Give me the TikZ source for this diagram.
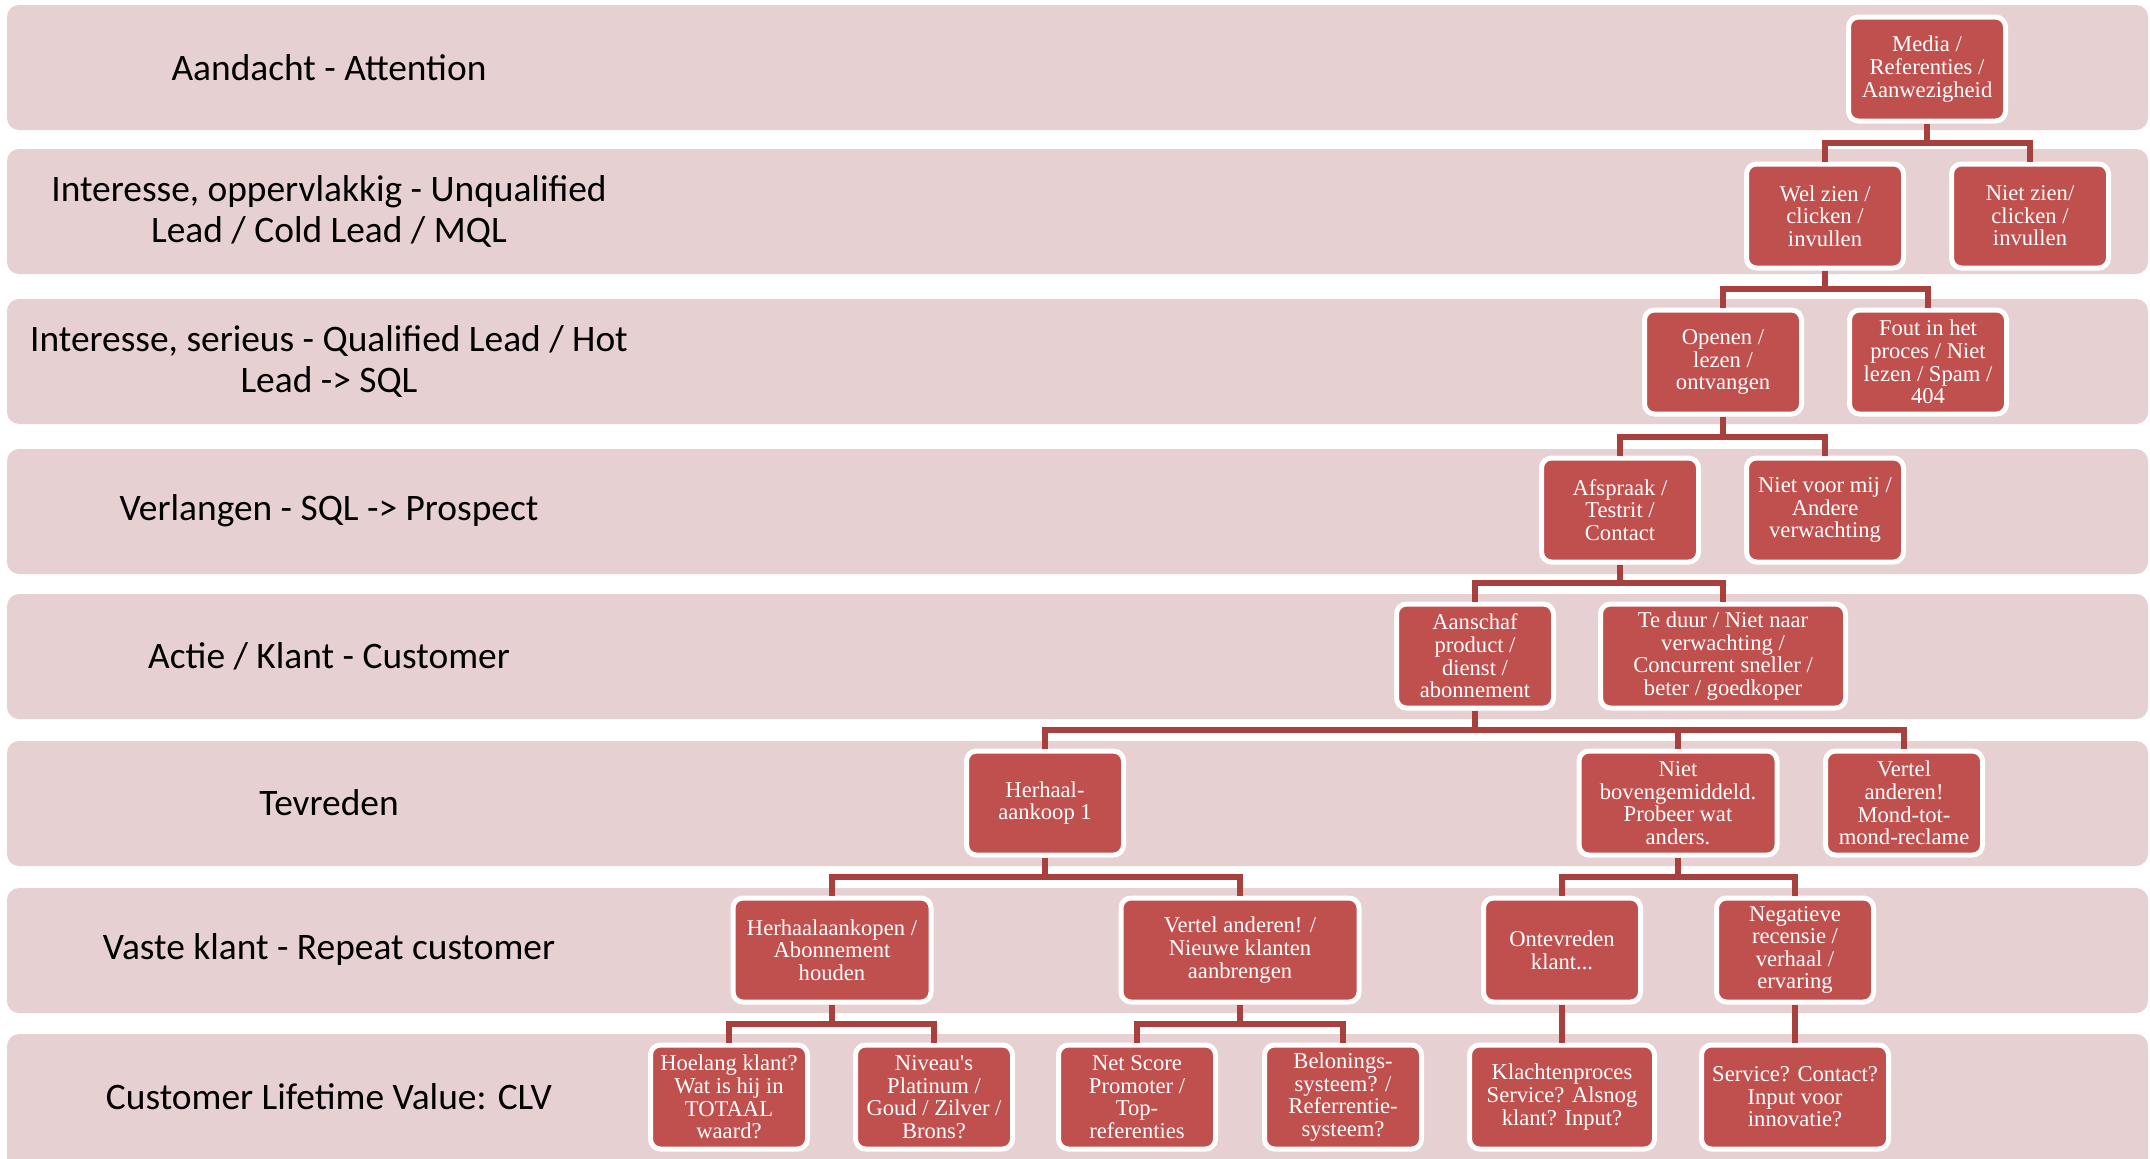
\documentclass[tikz,border=0pt]{standalone}
\usepackage{fontspec}
\setmainfont{Liberation Serif}
\newfontfamily\stagefont{Carlito}
\usepackage{tikz}
\usetikzlibrary{positioning,calc}

\definecolor{bandpink}{RGB}{231,208,209}
\definecolor{boxred}{RGB}{192,80,77}
\definecolor{linkred}{RGB}{168,64,62}

\begin{document}
\begin{tikzpicture}[x=0.5pt, y=-0.5pt,
    band/.style={fill=bandpink, rounded corners=6pt},
    stage/.style={font=\stagefont\fontsize{18.7}{20.5}\selectfont, align=center, text=black},
    box/.style={draw=white, line width=2.5pt, fill=boxred, rounded corners=5pt, text=white,
        align=center, minimum width=78.5pt, minimum height=52pt, inner sep=1pt,
        font=\fontsize{11.3}{11.3}\selectfont},
    link/.style={draw=linkred, line width=3pt}]

    \useasboundingbox (0,0) rectangle (2150,1158);

    % Bands
    \foreach \t/\b in {5/130, 149/274, 299/424, 449/574, 594/719, 741/866, 888/1013, 1034/1180}
        \fill[band] (7,\t) rectangle (2148,\b);

    % Stages
    \node[stage] (s1) at (329,68) {Aandacht - Attention};
    \node[stage] (s2) at (329,211) {Interesse, oppervlakkig - Unqualified\\Lead / Cold Lead / MQL};
    \node[stage] (s3) at (329,361) {Interesse, serieus - Qualified Lead / Hot\\Lead -> SQL};
    \node[stage] (s4) at (329,511) {Verlangen - SQL -> Prospect};
    \node[stage] (s5) at (329,656) {Actie / Klant - Customer};
    \node[stage] (s6) at (329,803) {Tevreden};
    \node[stage] (s7) at (329,950) {Vaste klant - Repeat customer};
    \node[stage] (s8) at (329,1097) {Customer Lifetime Value: CLV};

    % Aandacht
    \node[box] (media) at (1927,69) {Media /\\Referenties /\\Aanwezigheid};

    % Interesse, oppervlakkig
    \node[box] (welzien) at (1825,216) {Wel zien /\\clicken /\\invullen};
    \node[box] (nietzien) at (2030,216) {Niet zien/\\clicken /\\invullen};

    % Interesse, serieus
    \node[box] (openen) at (1723,362) {Openen /\\lezen /\\ontvangen};
    \node[box] (fout) at (1928,362) {Fout in het\\proces / Niet\\lezen / Spam /\\404};

    % Verlangen
    \node[box] (afspraak) at (1620,510) {Afspraak /\\Testrit /\\Contact};
    \node[box] (nietvoor) at (1825,510) {Niet voor mij /\\Andere\\verwachting};

    % Actie
    \node[box] (aanschaf) at (1475,656) {Aanschaf\\product /\\dienst /\\abonnement};
    \node[box, minimum width=122.5pt] (teduur) at (1723,656) {Te duur / Niet naar\\verwachting /\\Concurrent sneller /\\beter / goedkoper};

    % Tevreden
    \node[box] (herhaal) at (1045,803) {Herhaal-\\aankoop 1};
    \node[box, minimum width=99pt] (nietboven) at (1678,803) {Niet\\bovengemiddeld.\\Probeer wat\\anders.};
    \node[box] (vertel) at (1904,803) {Vertel\\anderen!\\Mond-tot-\\mond-reclame};

    % Vaste klant
    \node[box, minimum width=99pt] (herhaalaank) at (832,950) {Herhaalaankopen /\\Abonnement\\houden};
    \node[box, minimum width=119pt] (nieuweklant) at (1240,950) {Vertel anderen! /\\Nieuwe klanten\\aanbrengen};
    \node[box] (ontevreden) at (1562,950) {Ontevreden\\klant...};
    \node[box] (negatief) at (1795,950) {Negatieve\\recensie /\\verhaal /\\ervaring};

    % CLV
    \node[box] (hoelang) at (729,1097) {Hoelang klant?\\Wat is hij in\\TOTAAL\\waard?};
    \node[box] (niveau) at (934,1097) {Niveau\textquotesingle s\\Platinum /\\Goud / Zilver /\\Brons?};
    \node[box] (netscore) at (1137,1097) {Net Score\\Promoter /\\Top-\\referenties};
    \node[box] (beloning) at (1343,1097) {Belonings-\\systeem? /\\Referrentie-\\systeem?};
    \node[box, minimum width=92.5pt] (klachten) at (1562,1097) {Klachtenproces\\Service? Alsnog\\klant? Input?};
    \node[box, minimum width=93.5pt] (service) at (1795,1097) {Service? Contact?\\Input voor\\innovatie?};

    % Links
    \draw[link] (media.south) |- ([yshift=9.5pt]welzien.north) -- (welzien.north)
        (media.south) |- ([yshift=9.5pt]nietzien.north) -- (nietzien.north);
    \draw[link] (welzien.south) |- ([yshift=9.5pt]openen.north) -- (openen.north)
        (welzien.south) |- ([yshift=9.5pt]fout.north) -- (fout.north);
    \draw[link] (openen.south) |- ([yshift=9.5pt]afspraak.north) -- (afspraak.north)
        (openen.south) |- ([yshift=9.5pt]nietvoor.north) -- (nietvoor.north);
    \draw[link] (afspraak.south) |- ([yshift=9.5pt]aanschaf.north) -- (aanschaf.north)
        (afspraak.south) |- ([yshift=9.5pt]teduur.north) -- (teduur.north);
    \draw[link] (aanschaf.south) |- ([yshift=9.5pt]herhaal.north) -- (herhaal.north)
        (aanschaf.south) |- ([yshift=9.5pt]nietboven.north) -- (nietboven.north)
        (aanschaf.south) |- ([yshift=9.5pt]vertel.north) -- (vertel.north);
    \draw[link] (herhaal.south) |- ([yshift=9.5pt]herhaalaank.north) -- (herhaalaank.north)
        (herhaal.south) |- ([yshift=9.5pt]nieuweklant.north) -- (nieuweklant.north);
    \draw[link] (nietboven.south) |- ([yshift=9.5pt]ontevreden.north) -- (ontevreden.north)
        (nietboven.south) |- ([yshift=9.5pt]negatief.north) -- (negatief.north);
    \draw[link] (herhaalaank.south) |- ([yshift=9.5pt]hoelang.north) -- (hoelang.north)
        (herhaalaank.south) |- ([yshift=9.5pt]niveau.north) -- (niveau.north);
    \draw[link] (nieuweklant.south) |- ([yshift=9.5pt]netscore.north) -- (netscore.north)
        (nieuweklant.south) |- ([yshift=9.5pt]beloning.north) -- (beloning.north);
    \draw[link] (ontevreden.south) -- (klachten.north); % straight down
    \draw[link] (negatief.south) -- (service.north);

\end{tikzpicture}
\end{document}
